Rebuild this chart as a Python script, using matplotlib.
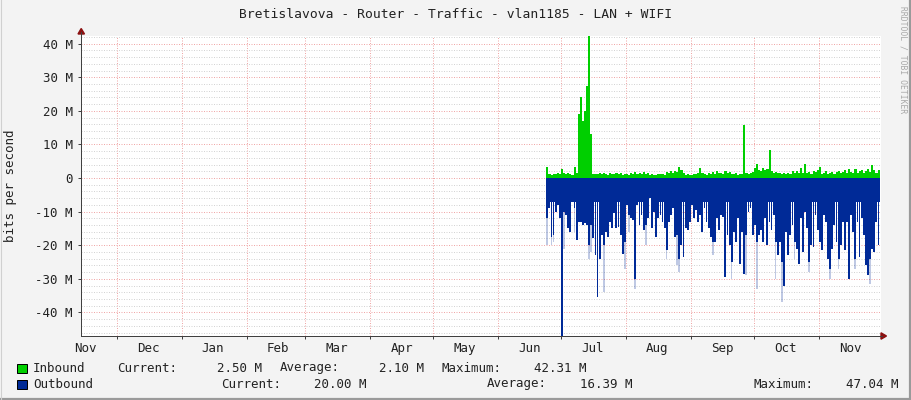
import numpy as np
import matplotlib
matplotlib.use("Agg")
import matplotlib.pyplot as plt
import matplotlib.dates as mdates
from matplotlib.patches import Polygon, Rectangle
from matplotlib.lines import Line2D

W, H = 911, 400

TITLE = "Bretislavova - Router - Traffic - vlan1185 - LAN + WIFI"
YLABEL = "bits per second"

X_START = "2024-11-14"
X_END = "2025-11-30T16:00"
DATA_START = "2025-06-24"

# daily averages, Mbit/s
inbound = [
    3.2, 1.2, 1.0, 1.3, 1.1, 1.5, 1.2, 2.8, 1.4, 1.2, 1.4, 1.2, 1.0, 3.4, 1.5, 19.0,
    24.0, 17.0, 20.0, 27.5, 42.31, 13.0, 1.2, 1.3, 1.1, 1.4, 1.2, 1.6, 1.3, 1.0, 1.5, 1.2,
    1.1, 1.6, 1.3, 1.4, 1.0, 1.3, 1.1, 0.9, 1.5, 1.2, 1.7, 1.1, 1.5, 1.3, 1.8, 1.2,
    1.6, 1.0, 1.2, 0.9, 1.0, 1.2, 1.1, 1.3, 1.0, 1.8, 1.4, 2.0, 1.5, 2.2, 1.8, 3.2,
    2.4, 1.4, 1.0, 1.2, 0.9, 1.0, 1.3, 1.1, 1.5, 2.9, 1.4, 1.2, 1.0, 1.4, 1.1, 1.8,
    1.3, 2.1, 1.4, 1.6, 1.2, 2.2, 1.5, 1.8, 1.3, 1.1, 1.4, 1.0, 1.3, 1.2, 15.8, 1.4,
    1.2, 1.5, 1.8, 3.0, 4.3, 2.5, 2.2, 3.1, 2.4, 2.6, 8.4, 2.0, 1.6, 1.9, 1.4, 1.6,
    1.2, 1.4, 1.1, 1.5, 1.3, 2.0, 1.6, 2.2, 1.5, 3.0, 1.6, 4.1, 1.5, 1.8, 1.3, 2.2,
    1.7, 2.5, 3.4, 1.3, 1.5, 2.0, 1.2, 1.6, 1.8, 1.3, 1.7, 2.1, 1.5, 1.8, 2.3, 1.4,
    2.6, 1.9, 1.5, 2.7, 1.6, 2.2, 2.4, 1.5, 2.0, 2.8, 1.9, 3.8, 2.5, 1.6, 2.5,
]

outbound = [
    -12.0, -9.0, -17.5, -17.0, -10.0, -8.0, -12.0, -47.04, -10.0, -11.0, -15.0, -16.0, -7.0, -9.0, -18.5, -13.0,
    -13.0, -14.0, -13.5, -14.0, -20.0, -14.0, -18.0, -23.0, -35.4, -24.0, -17.0, -20.0, -16.0, -17.5, -13.0, -15.0,
    -10.5, -15.0, -14.5, -17.0, -22.5, -19.0, -8.0, -11.0, -12.0, -12.5, -30.0, -8.0, -14.0, -11.0, -15.5, -14.0,
    -12.0, -6.0, -15.0, -10.0, -17.5, -12.0, -11.0, -13.0, -15.0, -21.5, -13.0, -11.0, -9.0, -17.5, -17.0, -24.0,
    -20.0, -23.5, -15.0, -15.5, -13.0, -8.0, -12.0, -9.5, -13.0, -11.0, -16.0, -9.0, -13.0, -15.0, -17.5, -19.0,
    -19.0, -12.0, -15.5, -11.0, -11.5, -29.5, -17.0, -20.0, -25.0, -16.0, -19.0, -12.0, -25.5, -16.0, -28.5, -17.0,
    -10.0, -9.0, -17.0, -14.0, -19.0, -17.0, -15.5, -19.0, -12.0, -20.0, -13.0, -15.5, -11.0, -19.0, -23.0, -19.0,
    -25.0, -32.0, -16.0, -23.0, -17.0, -14.0, -19.0, -21.0, -25.5, -12.0, -22.0, -10.0, -15.0, -25.0, -20.0, -20.5,
    -11.0, -15.5, -19.0, -21.5, -11.0, -13.0, -24.0, -27.0, -21.0, -14.0, -19.0, -24.0, -20.0, -13.0, -21.5, -13.0,
    -30.0, -11.0, -16.0, -24.0, -13.0, -23.5, -12.0, -17.0, -26.0, -29.0, -24.0, -21.0, -22.0, -13.0, -20.0,
]

# outbound never drops below this level: the solid band under the zero line
OUT_FLOOR = -7.0

# faded tips of the deeper outbound spikes (day index, Mbit/s)
out_tip_day = [0, 2, 3, 8, 13, 20, 21, 27, 37, 39, 42, 47, 57, 62, 63, 79,
               88, 95, 100, 109, 112, 118, 125, 135, 139, 147, 154]
out_tip_val = [-20, -20, -19, -21, -16, -24, -22, -34, -27, -16, -33, -20, -24, -26, -28, -23,
               -30, -29, -33, -30, -37, -24, -28, -30, -27, -27, -31.5]

y_ticks = [40, 30, 20, 10, 0, -10, -20, -30, -40]
y_labels = ["40 M", "30 M", "20 M", "10 M", "0", "-10 M", "-20 M", "-30 M", "-40 M"]

legend_rows = [
    ("Inbound", "#00CF00", [("Current:", 117), ("2.50 M", 262), ("Average:", 280), ("2.10 M", 424),
                            ("Maximum:", 442), ("42.31 M", 587)]),
    ("Outbound", "#002A97", [("Current:", 221), ("20.00 M", 366), ("Average:", 487), ("16.39 M", 632),
                             ("Maximum:", 753), ("47.04 M", 898)]),
]

GREEN = "#00CF00"
BLUE = "#002A97"
MONO = ["DejaVu Sans Mono"]
TXT = "#222222"


def fx(x):
    return x / W


def fy(y):
    return 1 - y / H


fig = plt.figure(figsize=(W / 100, H / 100), dpi=100, facecolor="#F3F3F3")
ax = fig.add_axes([fx(81), fy(336), 800 / W, 300 / H])
ax.set_facecolor("white")

days = np.datetime64(DATA_START) + np.arange(len(inbound) + 1)
xd = mdates.date2num(days.astype("datetime64[s]").astype(object))
xday = xd[:-1]
out = np.array(outbound, dtype=float)
band = np.maximum(out, OUT_FLOOR)

tips = out.copy()
for d, v in zip(out_tip_day, out_tip_val):
    tips[d] = v

# faded tips, then the spikes, then the solid band
ax.bar(xday, tips - out, bottom=out, width=0.8, align="edge", color=BLUE, alpha=0.25,
       lw=0, zorder=2)
ax.bar(xday, out, width=0.88, align="edge", color=BLUE, lw=0, zorder=3)
ax.fill_between(xd, 0, np.append(band, band[-1]), step="post", color=BLUE, lw=0, zorder=3)
ax.fill_between(xd, 0, np.append(inbound, inbound[-1]), step="post", color=GREEN, lw=0, zorder=3)

x0 = mdates.date2num(np.datetime64(X_START, "s").astype(object))
x1 = mdates.date2num(np.datetime64(X_END, "s").astype(object))
ax.set_xlim(x0, x1)
ax.set_ylim(-47.04, 42.31)

# ticks and grid
ax.set_yticks(y_ticks)
ax.set_yticklabels(y_labels, family=MONO, fontsize=9, color=TXT)
ax.yaxis.set_minor_locator(matplotlib.ticker.MultipleLocator(2))
ax.xaxis.set_major_locator(mdates.MonthLocator())
ax.xaxis.set_minor_locator(mdates.MonthLocator(bymonthday=16))
ax.xaxis.set_major_formatter(matplotlib.ticker.NullFormatter())
ax.xaxis.set_minor_formatter(mdates.DateFormatter("%b"))
for lab in ax.get_xticklabels(minor=True):
    lab.set_family(MONO)
    lab.set_fontsize(9)
    lab.set_color(TXT)
ax.tick_params(axis="x", which="minor", length=0, pad=4)
ax.tick_params(axis="x", which="major", length=2, color="#404040", width=0.72)
ax.tick_params(axis="y", which="major", length=2, color="#404040", width=0.72, pad=4)
ax.tick_params(axis="y", which="minor", length=0)

ax.grid(True, axis="y", which="minor", color="#D4D4D4", lw=0.72, ls=(0, (1, 1.5)), zorder=1)
ax.grid(True, axis="y", which="major", color="#F0A8A8", lw=0.72, ls=(0, (1, 1.5)), zorder=1)
ax.grid(True, axis="x", which="major", color="#F0A8A8", lw=0.72, ls=(0, (1, 1.5)), zorder=1)
ax.set_axisbelow(True)

for s in ("top", "right"):
    ax.spines[s].set_visible(False)
for s in ("left", "bottom"):
    ax.spines[s].set_color("#404040")
    ax.spines[s].set_linewidth(0.72)
    ax.spines[s].set_zorder(4)

fig.text(fx(11), fy(186), YLABEL, family=MONO, fontsize=9, rotation=90,
         ha="center", va="center", color=TXT)

# axis extensions and arrows
fig.add_artist(Line2D([fx(81), fx(81)], [fy(336), fy(32)], color="#404040", lw=0.72))
fig.add_artist(Line2D([fx(81), fx(882)], [fy(336), fy(336)], color="#404040", lw=0.72))
fig.add_artist(Polygon([(fx(78), fy(34)), (fx(84.5), fy(34)), (fx(81.2), fy(28.5))],
                       closed=True, color="#8B1010", transform=fig.transFigure))
fig.add_artist(Polygon([(fx(881), fy(332.8)), (fx(881), fy(339.2)), (fx(886.5), fy(336))],
                       closed=True, color="#8B1010", transform=fig.transFigure))

# title and watermark
fig.text(fx(456), fy(15), TITLE, family=MONO, fontsize=9.4, ha="center", va="center", color=TXT)
fig.text(fx(903), fy(60), "RRDTOOL / TOBI OETIKER", family=MONO, fontsize=5.8, rotation=270,
         ha="center", va="center", color="#A8A8A8")

# legend
for row, (name, color, items) in enumerate(legend_rows):
    yc = 368 + row * 16
    fig.add_artist(Rectangle((fx(17), fy(yc + 4.5)), 10 / W, 9 / H, facecolor=color,
                             edgecolor="black", lw=0.72, transform=fig.transFigure))
    fig.text(fx(33), fy(yc), name, family=MONO, fontsize=9, ha="left", va="center", color=TXT)
    for txt, xpos in items:
        ha = "left" if txt.endswith(":") else "right"
        fig.text(fx(xpos), fy(yc), txt, family=MONO, fontsize=9, ha=ha, va="center", color=TXT)

# frame
fig.add_artist(Line2D([fx(909.5), fx(909.5)], [0, 1], color="#9A9A9A", lw=1.6))
fig.add_artist(Line2D([0, 1], [fy(398.5), fy(398.5)], color="#9A9A9A", lw=1.6))
fig.add_artist(Line2D([fx(0.5), fx(0.5)], [0, 1], color="#D0D0D0", lw=0.8))

fig.savefig("out.png", dpi=100, facecolor=fig.get_facecolor())
